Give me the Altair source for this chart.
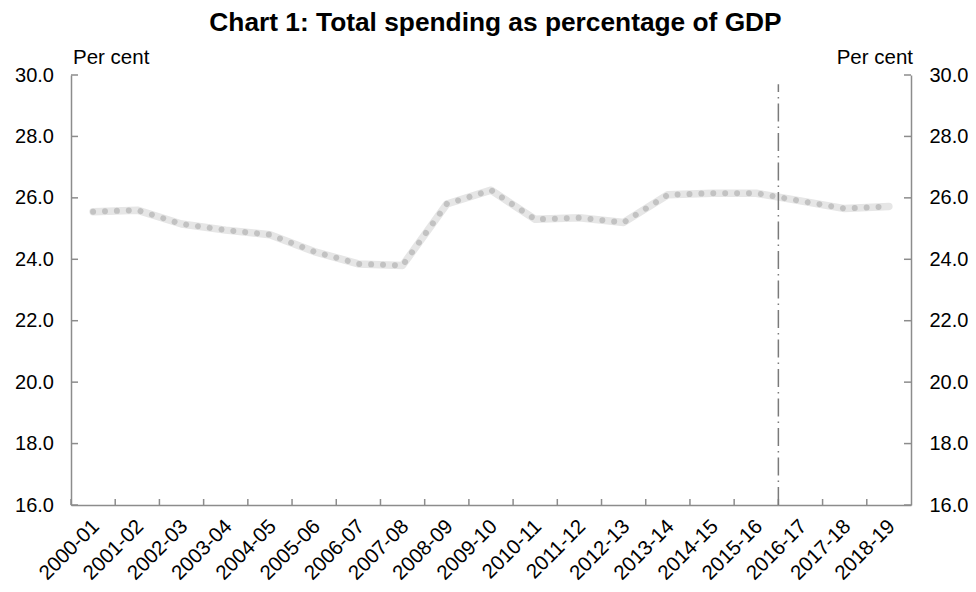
import altair as alt
import pandas as pd

# ---- data ----
years = ["2000-01", "2001-02", "2002-03", "2003-04", "2004-05", "2005-06",
         "2006-07", "2007-08", "2008-09", "2009-10", "2010-11", "2011-12",
         "2012-13", "2013-14", "2014-15", "2015-16", "2016-17", "2017-18",
         "2018-19"]
spending = [25.55, 25.6, 25.15, 24.95, 24.8, 24.25, 23.85, 23.8, 25.8, 26.25,
            25.3, 25.35, 25.2, 26.1, 26.15, 26.15, 25.9, 25.65, 25.72]
y_ticks = [16, 18, 20, 22, 24, 26, 28, 30]
forecast_start = ["2016-17"]
forecast_line_top = [29.7]
title_text = ["Chart 1: Total spending as percentage of GDP"]
unit_text = ["Per cent"]

W, H = 840, 430
FONT = "Liberation Sans"
AXIS_GREY = "#8c8c8c"

df = pd.DataFrame({"year": years, "value": spending})
df_ticks = pd.DataFrame({"v": y_ticks})
df_xt = pd.DataFrame({"year": years})
df_vl = pd.DataFrame({"year": forecast_start, "lo": [16] * len(forecast_start),
                      "hi": forecast_line_top})

xscale = alt.Scale(type="band", domain=years, paddingInner=0, paddingOuter=0)
yscale = alt.Scale(domain=[16, 30], nice=False, zero=False)

x_axis = alt.Axis(title=None, ticks=False, tickSize=0, labelAngle=-45,
                  labelAlign="right", labelBaseline="middle", labelPadding=18,
                  labelOffset=3,
                  labelFontSize=20.5, labelFont=FONT, labelColor="#000000",
                  domainColor=AXIS_GREY, domainWidth=1.5, grid=False,
                  labelOverlap=False)
left_axis = alt.Axis(title=None, orient="left", values=y_ticks, format=".1f",
                     ticks=False, tickSize=0, labelPadding=17.5,
                     labelFontSize=20, labelFont=FONT, labelColor="#000000",
                     domainColor=AXIS_GREY, domainWidth=1.5, grid=False)
right_axis = alt.Axis(title=None, orient="right", values=y_ticks, format=".1f",
                      ticks=False, tickSize=0, labelPadding=18,
                      labelFontSize=20, labelFont=FONT, labelColor="#000000",
                      domainColor=AXIS_GREY, domainWidth=1.5, grid=False)


def xenc(pos):
    return alt.X("year:N", scale=xscale, axis=x_axis, bandPosition=pos)


band = alt.Chart(df).mark_line(color="#e6e6e6", strokeWidth=7.5,
                               strokeJoin="round", strokeCap="round").encode(
    x=xenc(0.5),
    y=alt.Y("value:Q", scale=yscale, axis=left_axis),
)
dots = alt.Chart(df).mark_line(color="#c2c2c2", strokeWidth=6,
                               strokeCap="round", strokeDash=[0.001, 11.9]).encode(
    x=xenc(0.5),
    y=alt.Y("value:Q", scale=yscale, axis=None),
)
left_ticks = alt.Chart(df_ticks).mark_rule(color=AXIS_GREY, strokeWidth=1.5).encode(
    y=alt.Y("v:Q", scale=yscale, axis=None),
    x=alt.value(0), x2=alt.value(7),
)
x_ticks = alt.Chart(df_xt).mark_rule(color=AXIS_GREY, strokeWidth=1.5).encode(
    x=xenc(0),
    y=alt.value(H), y2=alt.value(H - 6),
)
vline = alt.Chart(df_vl).mark_rule(color="#7a7a7a", strokeWidth=1.5,
                                   strokeDash=[18, 5, 1.5, 5]).encode(
    x=xenc(0),
    y=alt.Y("lo:Q", scale=yscale, axis=None),
    y2="hi:Q",
)
right_ticks = alt.Chart(df_ticks).mark_rule(color=AXIS_GREY, strokeWidth=1.5).encode(
    y=alt.Y("v:Q", scale=yscale, axis=right_axis),
    x=alt.value(W - 7), x2=alt.value(W),
)

title = alt.Chart(pd.DataFrame({"t": title_text})).mark_text(
    font=FONT, fontSize=26.3, fontWeight="bold", color="#000000",
    align="center", baseline="alphabetic").encode(
    text="t:N", x=alt.value(424.5), y=alt.value(-44))
unit_left = alt.Chart(pd.DataFrame({"t": unit_text})).mark_text(
    font=FONT, fontSize=20.5, color="#000000", align="left",
    baseline="alphabetic").encode(text="t:N", x=alt.value(2), y=alt.value(-11))
unit_right = alt.Chart(pd.DataFrame({"t": unit_text})).mark_text(
    font=FONT, fontSize=20.5, color="#000000", align="right",
    baseline="alphabetic").encode(text="t:N", x=alt.value(W + 2), y=alt.value(-11))

chart = alt.layer(
    band, dots, left_ticks, x_ticks, vline, right_ticks, title, unit_left, unit_right
).resolve_scale(y="independent").properties(
    width=W, height=H,
    autosize=alt.AutoSizeParams(type="none"),
    padding={"left": 63, "top": 67, "right": 57, "bottom": 79},
    background="white",
).configure_view(stroke=None)

chart.save("out.html", embed_options={"renderer": "svg", "actions": False})
